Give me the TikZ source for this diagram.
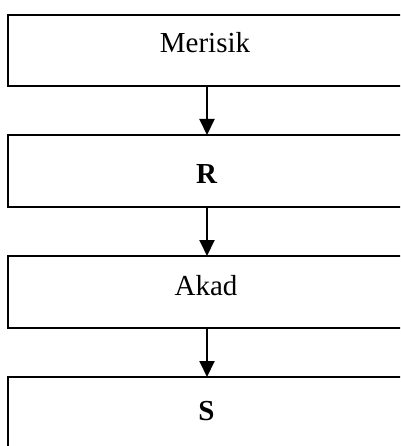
\documentclass[tikz,border=0pt]{standalone}
\usepackage{fontspec}
\setmainfont{Liberation Serif}
\usetikzlibrary{arrows.meta}
\tikzset{
  stagebox/.style={draw=black, line width=2pt, minimum width=398pt, inner sep=0pt},
  lbl/.style={anchor=base, inner sep=0pt, font=\fontsize{29}{34}\selectfont},
  flow/.style={line width=2pt, -{Triangle[width=15pt,length=16pt]}, shorten >=-1pt}
}
\begin{document}
\begin{tikzpicture}[x=1pt,y=-1pt]
\useasboundingbox (0,0) rectangle (400,446);
\clip (0,0) rectangle (400,446);
\fill[white] (0,0) rectangle (400,446);
\node[stagebox, minimum height=71pt] (b1) at (207,50.5) {};
\node[stagebox, minimum height=72pt] (b2) at (207,171) {};
\node[stagebox, minimum height=72pt] (b3) at (207,292) {};
\node[stagebox, minimum height=90pt] (b4) at (207,422) {};
\node[lbl] (t1) at (205,53) {Merisik};
\node[lbl] (t2) at (206.5,184) {\bfseries R};
\node[lbl] (t3) at (206,295) {Akad};
\node[lbl] (t4) at (206.5,420) {\bfseries S};
\draw[flow] (b1.south) -- (b2.north);
\draw[flow] (b2.south) -- (b3.north);
\draw[flow] (b3.south) -- (b4.north);
\end{tikzpicture}
\end{document}
